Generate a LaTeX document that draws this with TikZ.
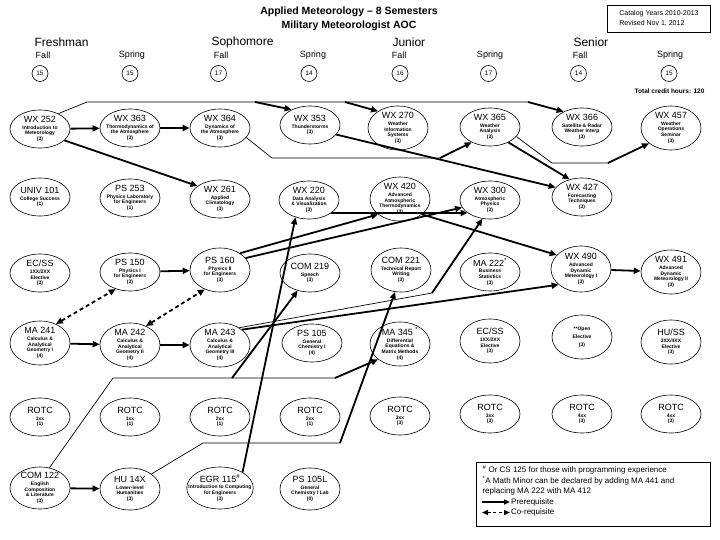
\documentclass[tikz,border=0pt]{standalone}
\usepackage{fontspec}
\setmainfont{Liberation Sans}
\usetikzlibrary{shapes.geometric,arrows.meta}
\newcommand\cd[1]{{\fontsize{9}{9.5}\selectfont\mdseries #1}\\[0.8pt]}
\begin{document}
\begin{tikzpicture}[x=1pt,y=-1pt,
  course/.style={draw, ellipse, line width=0.6pt, minimum width=60pt, minimum height=38pt,
    inner xsep=-8pt, inner ysep=-3pt, align=center, font=\fontsize{5}{5.8}\selectfont\bfseries},
  tall/.style={minimum height=44pt},
  pre/.style={line width=1.8pt, -{Triangle[length=7pt,width=6pt]}},
  bus/.style={line width=0.7pt},
  co/.style={line width=1.8pt, dash pattern=on 4pt off 3pt,
    {Triangle[length=7pt,width=6pt]}-{Triangle[length=7pt,width=6pt]}},
  sem/.style={draw, circle, line width=0.6pt, minimum size=16pt, inner sep=0pt, font=\fontsize{6.5}{7}\selectfont},
  semlab/.style={font=\fontsize{9}{10}\selectfont},
  yearlab/.style={anchor=west, font=\fontsize{12}{14}\selectfont},
  legtext/.style={anchor=west, font=\fontsize{8}{9}\selectfont}]
\useasboundingbox (0,0) rectangle (720,540);
\fill[white] (0,0) rectangle (720,540);

% header
\node[font=\bfseries\fontsize{10.5}{12}\selectfont] (t1) at (349,12) {Applied Meteorology – 8 Semesters};
\node[font=\bfseries\fontsize{10.5}{12}\selectfont] (t2) at (349,26) {Military Meteorologist AOC};
\node[draw, line width=0.6pt, align=left, inner sep=0pt, minimum width=103pt, minimum height=27pt,
  font=\fontsize{7}{10}\selectfont] (cat) at (659,18.5) {Catalog Years 2010-2013\\Revised Nov 1, 2012};
\node[yearlab] (y1) at (31,42) {Freshman};
\node[yearlab] (y2) at (208,42) {Sophomore};
\node[yearlab] (y3) at (389,42) {Junior};
\node[yearlab] (y4) at (570,42) {Senior};
\node[semlab] (l1) at (43,55.5) {Fall};
\node[semlab] (l2) at (132,55.5) {Spring};
\node[semlab] (l3) at (221,55.5) {Fall};
\node[semlab] (l4) at (313,55.5) {Spring};
\node[semlab] (l5) at (399,55.5) {Fall};
\node[semlab] (l6) at (490,55.5) {Spring};
\node[semlab] (l7) at (580,55.5) {Fall};
\node[semlab] (l8) at (670,55.5) {Spring};
\node[sem] (s1) at (40,73.5) {15};
\node[sem] (s2) at (130,73.5) {15};
\node[sem] (s3) at (218.5,73.5) {17};
\node[sem] (s4) at (309,73.5) {14};
\node[sem] (s5) at (400,73.5) {16};
\node[sem] (s6) at (488.5,73.5) {17};
\node[sem] (s7) at (578.5,73.5) {14};
\node[sem] (s8) at (669,73.5) {15};
\node[anchor=east, font=\bfseries\fontsize{6.5}{7}\selectfont] (tot) at (708,91) {Total credit hours: 120};

% row 1
\node[course] (a11) at (40,129) {\cd{WX 252}Introduction to\\Meteorology\\(3)};
\node[course] (a12) at (130,128) {\cd{WX 363}Thermodynamics of\\the Atmosphere\\(3)};
\node[course] (a13) at (220,128) {\cd{WX 364}Dynamics of\\the Atmosphere\\(3)};
\node[course] (a14) at (310,125) {\cd{WX 353}Thunderstorms\\(3)};
\node[course,tall] (a15) at (398,128) {\cd{WX 270}Weather\\Information\\Systems\\(3)};
\node[course] (a16) at (490,127) {\cd{WX 365}Weather\\Analysis\\(3)};
\node[course] (a17) at (582,127) {\cd{WX 366}Satellite \& Radar\\Weather Interp\\(3)};
\node[course,tall] (a18) at (671,128) {\cd{WX 457}Weather\\Operations\\Seminar\\(3)};

% row 2
\node[course] (a21) at (40,197) {\cd{UNIV 101}College Success\\(1)};
\node[course] (a22) at (130,198) {\cd{PS 253}Physics Laboratory\\for Engineers\\(1)};
\node[course] (a23) at (220,199) {\cd{WX 261}Applied\\Climatology\\(3)};
\node[course] (a24) at (309,200) {\cd{WX 220}Data Analysis\\\& Visualization\\(3)};
\node[course,tall] (a25) at (400,199) {\cd{WX 420}Advanced\\Atmospheric\\Thermodynamics\\(3)};
\node[course] (a26) at (490,200) {\cd{WX 300}Atmospheric\\Physics\\(3)};
\node[course] (a27) at (582,197) {\cd{WX 427}Forecasting\\Techniques\\(3)};

% row 3
\node[course] (a31) at (40,273) {\cd{EC/SS}1XX/2XX\\Elective\\(3)};
\node[course] (a32) at (130,272) {\cd{PS 150}Physics I\\for Engineers\\(3)};
\node[course,tall] (a33) at (220,270) {\cd{PS 160}Physics II\\for Engineers\\(3)};
\node[course] (a34) at (310,273) {\cd{COM 219}Speech\\(3)};
\node[course,tall] (a35) at (401,270) {\cd{COM 221}Technical Report\\Writing\\(3)};
\node[course] (a36) at (490,272) {\cd{MA 222\textsuperscript{*}}Business\\Statistics\\(3)};
\node[course,tall,minimum height=46pt] (a37) at (581,269) {\cd{WX 490}Advanced\\Dynamic\\Meteorology I\\(3)};
\node[course,tall] (a38) at (671,272) {\cd{WX 491}Advanced\\Dynamic\\Meteorology II\\(3)};

% row 4
\node[course,tall] (a41) at (40,343) {\cd{MA 241}Calculus \&\\Analytical\\Geometry I\\(4)};
\node[course,tall] (a42) at (130,345) {\cd{MA 242}Calculus \&\\Analytical\\Geometry II\\(4)};
\node[course,tall] (a43) at (220,345) {\cd{MA 243}Calculus \&\\Analytical\\Geometry III\\(4)};
\node[course] (a44) at (312,343) {\cd{PS 105}General\\Chemistry I\\(4)};
\node[course,tall] (a45) at (400,344) {\cd{MA 345 \textsuperscript{*}}Differential\\Equations \&\\Matrix Methods\\(4)};
\node[course,tall] (a46) at (490,341) {\cd{EC/SS}1XX/2XX\\Elective\\(3)};
\node[course,tall] (a47) at (582,337) {**Open\\[2pt]Elective\\[2pt](3)};
\node[course,tall] (a48) at (671,342) {\cd{HU/SS}3XX/4XX\\Elective\\(3)};

% row 5
\node[course] (a51) at (40,417) {\cd{ROTC}1xx\\(1)};
\node[course] (a52) at (130,417) {\cd{ROTC}1xx\\(1)};
\node[course] (a53) at (220,417) {\cd{ROTC}2xx\\(1)};
\node[course] (a54) at (310,417) {\cd{ROTC}2xx\\(1)};
\node[course] (a55) at (400,416) {\cd{ROTC}3xx\\(3)};
\node[course] (a56) at (490,414) {\cd{ROTC}3xx\\(3)};
\node[course] (a57) at (582,414) {\cd{ROTC}4xx\\(3)};
\node[course] (a58) at (671,414) {\cd{ROTC}4xx\\(3)};

% row 6
\node[course,tall,minimum height=42pt] (a61) at (40,488) {\cd{COM 122}English\\Composition\\\& Literature\\(3)};
\node[course,tall,minimum height=42pt] (a62) at (130,489) {\cd{HU 14X}Lower-level\\Humanities\\(3)};
\node[course,tall,minimum height=42pt] (a63) at (220,488) {\cd{EGR 115\textsuperscript{\#}}Introduction to Computing\\for Engineers\\(3)};
\node[course,tall,minimum height=42pt] (a64) at (310,489) {\cd{PS 105L}General\\Chemistry I Lab\\(0)};

% bend points
\coordinate (b1) at (87,102);
\coordinate (b2) at (528,102);
\coordinate (b3) at (255,102);
\coordinate (b4) at (345,102);
\coordinate (c1) at (272,158);
\coordinate (c2) at (440,158);
\coordinate (d1) at (552,163);
\coordinate (d2) at (608,163);
\coordinate (e1) at (432,293);
\coordinate (f1) at (203,443);
\coordinate (f2) at (340,443);
\coordinate (g1) at (113,378);
\coordinate (g2) at (232,378);
\coordinate (g3) at (335,378);

% straight prerequisites
\draw[pre] (a11) -- (a12);
\draw[pre] (a12) -- (a13);
\draw[pre] (a11.-25) -- (a23.150);
\draw[pre] (a32) -- (a33);
\draw[pre] (a41) -- (a42);
\draw[pre] (a42) -- (a43);
\draw[pre] (a61) -- (a62);
\draw[pre] (a37) -- (a38);
\draw[pre] (a14.-20) -- (a27.160);
\draw[pre] (a16.-40) -- (a27.125);
\draw[pre] (a33.40) -- (a25.215);
\draw[pre] (a33.25) -- (a26.195);
\draw[pre] (a24.-30) -- (a26.210);
\draw[pre] (a25.-35) -- (a37.150);
\draw[pre] (a43.35) -- (a37.215);
\draw[pre] (a63.35) -- (a24.232);

% bus lines
\draw[bus] (a11.40) -- (b1) -- (b2);
\draw[pre] (b3) -- (a14.140);
\draw[pre] (b4) -- (a15.140);
\draw[pre] (b2) -- (a17.140);
\draw[bus] (a13.-20) -- (c1) -- (c2);
\draw[pre] (c2) -- (a16.220);
\draw[bus] (a16.-20) -- (d1) -- (d2);
\draw[pre] (d2) -- (a18.215);
\draw[bus] (a43.42) -- (e1);
\draw[pre] (e1) -- (a26.248);
\draw[bus] (a62.35) -- (f1) -- (f2);
\draw[pre] (f2) -- (a35.255);
\draw[bus] (a61.65) -- (g1) -- (g3);
\draw[pre] (g2) -- (a34.235);
\draw[pre] (g3) -- (a45.215);

% corequisites
\draw[co] (a41.50) -- (a32.230);
\draw[co] (a42.50) -- (a33.232);

% legend
\node[draw, line width=0.7pt, minimum width=234pt, minimum height=64pt, inner sep=0pt] (leg) at (593,494) {};
\node[legtext] (n1) at (479,470) {\textsuperscript{\#} Or CS 125 for those with programming experience};
\node[legtext] (n2) at (479,480.5) {\textsuperscript{*}A Math Minor can be declared by adding MA 441 and};
\node[legtext] (n3) at (479,491) {replacing MA 222 with MA 412};
\coordinate (p1) at (482,502);
\node[legtext, inner sep=1pt] (n4) at (510,502) {Prerequisite};
\draw[line width=1.5pt, -{Triangle[length=6pt,width=5pt]}] (p1) -- (n4.west);
\coordinate (p2) at (482,512.5);
\node[legtext, inner sep=1pt] (n5) at (510,512.5) {Co-requisite};
\draw[line width=1.5pt, dash pattern=on 3pt off 2.5pt, {Triangle[length=6pt,width=5pt]}-{Triangle[length=6pt,width=5pt]}] (p2) -- (n5.west);
\end{tikzpicture}
\end{document}
